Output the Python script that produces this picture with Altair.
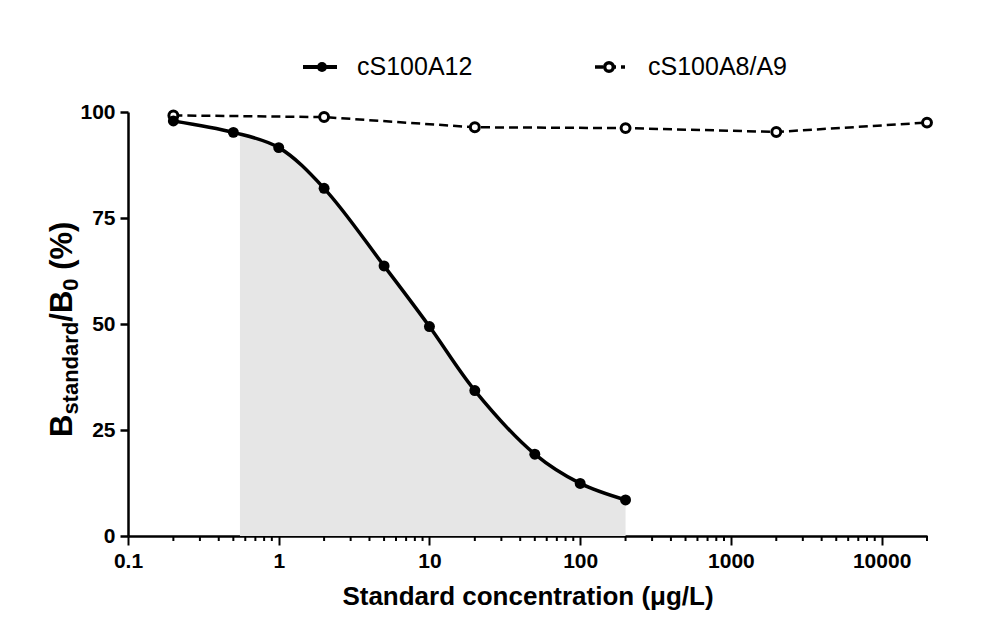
import altair as alt
import pandas as pd

# ---- data ----
conc_a12 = [0.2, 0.5, 1, 2, 5, 10, 20, 50, 100, 200]
bb0_a12 = [97.9, 95.2, 91.6, 82.0, 63.7, 49.4, 34.3, 19.3, 12.4, 8.5]

conc_a89 = [0.2, 2, 20, 200, 2000, 20000]
bb0_a89 = [99.2, 98.8, 96.4, 96.2, 95.3, 97.5]

# shaded working range under the cS100A12 curve
area_conc = [0.553, 1, 2, 5, 10, 20, 50, 100, 200]
area_val = [94.9, 91.6, 82.0, 63.7, 49.4, 34.3, 19.3, 12.4, 8.5]

series_names = ["cS100A12", "cS100A8/A9"]
x_title = "Standard concentration (\u03bcg/L)"
major_ticks = [0.1, 1, 10, 100, 1000, 10000]
minor_ticks = [v for v in (round(m * f, 6) for m in major_ticks for f in range(2, 10)) if v <= 20000]
y_ticks = [0, 25, 50, 75, 100]

df12 = pd.DataFrame({"conc": conc_a12, "val": bb0_a12})
df89 = pd.DataFrame({"conc": conc_a89, "val": bb0_a89})
dfa = pd.DataFrame({"conc": area_conc, "val": area_val})
dfminor = pd.DataFrame({"conc": minor_ticks})
one = pd.DataFrame({"k": [0]})

FONT = "Arial, Liberation Sans, Helvetica, sans-serif"
W, H = 799, 424

xscale = alt.Scale(type="log", domain=[0.1, 20000], nice=False)
yscale = alt.Scale(domain=[0, 100], nice=False, zero=True)

xaxis = alt.Axis(
    values=major_ticks,
    labelExpr="datum.value + ''",
    tickSize=9,
    tickWidth=2,
    tickColor="black",
    domainColor="black",
    domainWidth=2.5,
    labelFont=FONT,
    labelFontSize=21,
    labelFontWeight="bold",
    labelColor="black",
    labelPadding=5,
    labelOverlap=False,
    labelFlush=False,
    grid=False,
    title=x_title,
    titleFont=FONT,
    titleFontSize=26,
    titleFontWeight="bold",
    titleColor="black",
    titlePadding=12,
)
yaxis = alt.Axis(
    values=y_ticks,
    tickSize=8,
    tickWidth=2.5,
    tickColor="black",
    domainColor="black",
    domainWidth=2.5,
    labelFont=FONT,
    labelFontSize=21,
    labelFontWeight="bold",
    labelColor="black",
    labelPadding=5,
    grid=False,
    title=None,
)

X = alt.X("conc:Q", scale=xscale, axis=xaxis)
Y = alt.Y("val:Q", scale=yscale, axis=yaxis)

area = alt.Chart(dfa).mark_area(color="#e6e6e6", interpolate="catmull-rom", opacity=1).encode(x=X, y=Y)
minor = alt.Chart(dfminor).mark_rule(color="black", strokeWidth=2).encode(
    x=X, y=alt.value(H), y2=alt.value(H + 5))
dash_line = alt.Chart(df89).mark_line(color="black", strokeWidth=2.5, strokeDash=[9, 5]).encode(x=X, y=Y)
open_pts = alt.Chart(df89).mark_point(
    shape="circle", filled=True, fill="white", stroke="black", strokeWidth=3, size=80, opacity=1
).encode(x=X, y=Y)
solid_line = alt.Chart(df12).mark_line(color="black", strokeWidth=3.5, interpolate="catmull-rom").encode(x=X, y=Y)
fill_pts = alt.Chart(df12).mark_circle(color="black", size=120, opacity=1).encode(x=X, y=Y)

# ---- legend (drawn) ----
LY = -45
leg1_line = alt.Chart(one).mark_rule(color="black", strokeWidth=4).encode(
    x=alt.value(175), x2=alt.value(209), y=alt.value(LY))
leg1_pt = alt.Chart(one).mark_circle(color="black", size=100, opacity=1).encode(
    x=alt.value(194), y=alt.value(LY))
leg1_txt = alt.Chart(one).mark_text(
    text=series_names[0], font=FONT, fontSize=25, align="left", baseline="middle", color="black"
).encode(x=alt.value(229), y=alt.value(LY))
leg2_line = alt.Chart(one).mark_rule(color="black", strokeWidth=3.5, strokeDash=[8, 5]).encode(
    x=alt.value(467), x2=alt.value(497), y=alt.value(LY))
leg2_pt = alt.Chart(one).mark_point(
    shape="circle", filled=True, fill="white", stroke="black", strokeWidth=3.5, size=75, opacity=1
).encode(x=alt.value(481), y=alt.value(LY))
leg2_txt = alt.Chart(one).mark_text(
    text=series_names[1], font=FONT, fontSize=25, align="left", baseline="middle", color="black"
).encode(x=alt.value(520), y=alt.value(LY))

# ---- y title with subscripts (rotated text pieces) ----
MAIN, SUB = 31, 22
bold_w = {"B": 0.722, "/": 0.278, " ": 0.278, "(": 0.333, "%": 0.889, ")": 0.333,
          "s": 0.556, "t": 0.333, "a": 0.556, "n": 0.611, "d": 0.611, "r": 0.389, "0": 0.556}
pieces = [("B", MAIN, 0), ("standard", SUB, 0), ("/B", MAIN, 0), ("0", SUB, 0), ("(%)", MAIN, 0.278 * MAIN)]
TX, TY0 = -56, 325
title_layers = []
off = 0.0
for txt, fs, gap in pieces:
    off += gap
    sub = fs == SUB
    title_layers.append(
        alt.Chart(one).mark_text(
            text=txt, font=FONT, fontSize=fs, fontWeight="bold", angle=270,
            align="left", baseline="alphabetic", color="black"
        ).encode(x=alt.value(TX + (6 if sub else 0)), y=alt.value(TY0 - off))
    )
    off += sum(bold_w.get(c, 0.6) for c in txt) * fs

chart = alt.layer(
    area, minor, dash_line, open_pts, solid_line, fill_pts,
    leg1_line, leg1_pt, leg1_txt, leg2_line, leg2_pt, leg2_txt,
    *title_layers
).properties(
    width=W, height=H,
    autosize=alt.AutoSizeParams(type="none"),
    padding={"left": 120, "top": 104, "right": 54, "bottom": 80},
    background="white",
).configure_view(stroke=None)

chart.save("out.html", embed_options={"renderer": "svg", "actions": False})
